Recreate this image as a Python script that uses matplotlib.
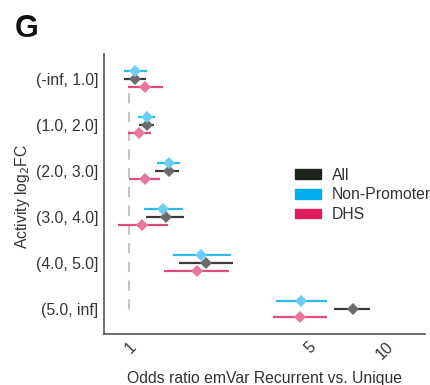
import numpy as np
import matplotlib
matplotlib.use("Agg")
from matplotlib import pyplot as plt
from matplotlib.patches import Patch

plt.rcParams['font.family'] = ['Liberation Sans', 'DejaVu Sans']

# activity bins (top to bottom)
bins = ["(-inf, 1.0]", "(1.0, 2.0]", "(2.0, 3.0]", "(3.0, 4.0]", "(4.0, 5.0]", "(5.0, inf]"]

# odds ratios with confidence intervals
all_or = [1.055, 1.175, 1.43, 1.39, 1.99, 7.45]
all_lo = [0.956, 1.094, 1.27, 1.165, 1.565, 6.28]
all_hi = [1.17, 1.25, 1.565, 1.64, 2.54, 8.66]

nonprom_or = [1.055, 1.175, 1.43, 1.356, 1.906, 4.67]
nonprom_lo = [0.956, 1.084, 1.285, 1.144, 1.483, 3.73]
nonprom_hi = [1.175, 1.262, 1.579, 1.622, 2.49, 5.89]

dhs_or = [1.154, 1.094, 1.154, 1.123, 1.84, 4.63]
dhs_lo = [0.991, 0.991, 1.0, 0.906, 1.368, 3.63]
dhs_hi = [1.356, 1.218, 1.32, 1.418, 2.45, 5.89]

groups = [
    # label, values, low, high, line colour, marker colour, dodge
    ("All", all_or, all_lo, all_hi, "#3a3a3a", "#6b6b6b", 0.0),
    ("Non-Promoter", nonprom_or, nonprom_lo, nonprom_hi, "#2db8ee", "#6ccdf5", -0.17),
    ("DHS", dhs_or, dhs_lo, dhs_hi, "#e04b80", "#ea75a0", 0.17),
]
legend_colors = {"All": "#1c241c", "Non-Promoter": "#00adee", "DHS": "#dc1c5e"}

fs = 11.3

fig = plt.figure(figsize=(4.31, 3.85), dpi=100)
ax = fig.add_axes([0.241, 0.1325, 0.745, 0.7275])

ypos = np.arange(len(bins))
ax.vlines(1, 0.3, 5.2, colors="#c4c4c4", linestyles=(0, (5, 4)), linewidth=1.5, zorder=1)

for label, vals, lo, hi, lc, mc, dodge in groups:
    y = ypos + dodge
    ax.hlines(y, lo, hi, colors=lc, linewidth=1.6, zorder=2)
    ax.plot(vals, y, linestyle="none", marker="D", markersize=6.5,
            color=mc, markeredgewidth=0, zorder=3)

ax.set_xscale("log")
ax.set_xlim(0.80, 14.2)
ax.set_ylim(5.54, -0.54)
ax.set_xticks([1, 5, 10])
ax.set_xticklabels(["1", "5", "10"], rotation=45, ha="right", va="top", rotation_mode="anchor")
ax.xaxis.set_minor_locator(matplotlib.ticker.NullLocator())
ax.set_yticks(ypos)
ax.set_yticklabels(bins)
ax.tick_params(axis="both", length=0, labelsize=fs, labelcolor="#333333")
ax.tick_params(axis="x", pad=4)
ax.tick_params(axis="y", pad=4)

for side in ["top", "right"]:
    ax.spines[side].set_visible(False)
for side in ["left", "bottom"]:
    ax.spines[side].set_color("#555555")
    ax.spines[side].set_linewidth(1.2)

ax.set_xlabel("Odds ratio emVar Recurrent vs. Unique", fontsize=fs, color="#333333", labelpad=6)
fig.text(0.052, 0.49, "Activity log$_2$FC", rotation=90, fontsize=fs, color="#333333",
         ha="center", va="center")

handles = [Patch(color=legend_colors[g[0]], label=g[0]) for g in groups]
fig.legend(handles=handles, loc="upper left", bbox_to_anchor=(0.666, 0.585),
           frameon=False, fontsize=fs, handlelength=1.65, handleheight=0.57,
           handletextpad=0.7, labelspacing=0.3, borderpad=0, labelcolor="#333333")

fig.text(0.035, 0.905, "G", fontsize=22, fontweight="bold", color="#111111")

fig.savefig("out.png", dpi=100)
